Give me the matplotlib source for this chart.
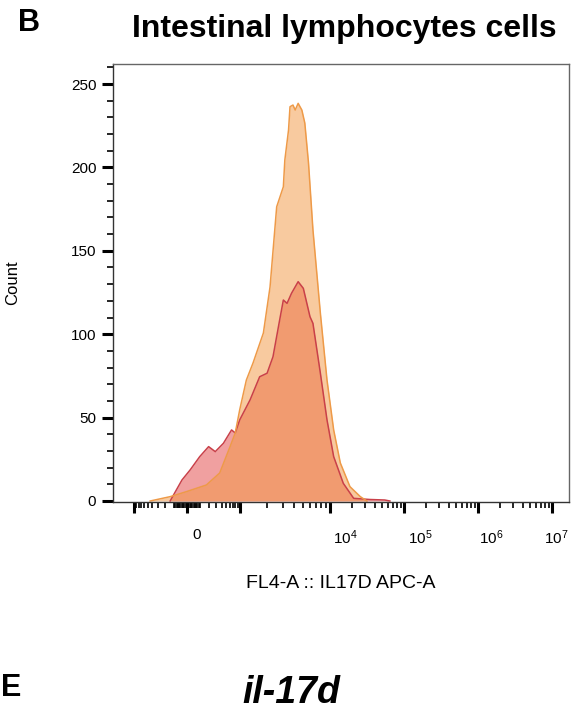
import numpy as np
import matplotlib.pyplot as plt
import matplotlib.transforms as mtransforms

plt.rcParams['font.family'] = ['Liberation Sans', 'DejaVu Sans']
plt.rcParams['mathtext.fontset'] = 'custom'
plt.rcParams['mathtext.rm'] = 'Liberation Sans'
plt.rcParams['mathtext.it'] = 'Liberation Sans:italic'
plt.rcParams['mathtext.bf'] = 'Liberation Sans:bold'

# histogram outlines
# x is the position on the biex axis in decades (10^4 -> 4), y is the count
orange_x = [1.57, 1.84, 2.06, 2.33, 2.51, 2.65, 2.72, 2.78, 2.87, 2.96, 3.10, 3.19,
            3.28, 3.37, 3.39, 3.44, 3.46, 3.50, 3.53, 3.57, 3.62, 3.66, 3.71, 3.77,
            3.87, 3.96, 4.05, 4.14, 4.27, 4.41, 4.50]
orange_y = [0, 2.6, 5.6, 9.6, 16.8, 32.6, 40.8, 54.6, 72.5, 82.7, 100.7, 128.3,
            176.4, 188.4, 204.4, 222.4, 236.4, 237.4, 234.4, 238.4, 234.4, 226.6, 202.6, 162.5,
            112.7, 72.5, 42.6, 22.8, 8.6, 2.6, 0]
red_x = [1.84, 2.00, 2.11, 2.24, 2.36, 2.45, 2.56, 2.67, 2.72, 2.78, 2.92, 3.05,
         3.15, 3.23, 3.32, 3.37, 3.42, 3.48, 3.57, 3.64, 3.73, 3.77, 3.87, 3.96,
         4.05, 4.18, 4.32, 4.54, 4.74, 4.81]
red_y = [0, 12.6, 18.6, 26.6, 32.6, 29.6, 34.6, 42.6, 40.8, 48.6, 60.6, 74.5,
         76.6, 86.5, 108.5, 120.5, 118.5, 124.5, 131.5, 127.5, 110.5, 106.5, 76.7, 48.6,
         26.6, 10.6, 1.6, 0.9, 0.6, 0]

major_values = [-1000, 0, 1000, 1e4, 1e5, 1e6, 1e7]
major_labels = ['', '0', '', '$10^{4}$', '$10^{5}$', '$10^{6}$', '$10^{7}$']
label_shift_px = [0, 10, 0, 15, 16, 13, 4]

y_major = [0, 50, 100, 150, 200, 250]


def biex(v):
    # rough FlowJo-like biexponential placement of axis values
    v = np.asarray(v, dtype=float)
    zero = 2.068
    lin = zero + 0.716 * np.arcsinh(v / 150) / np.arcsinh(1000 / 150)
    pos = np.clip(v, 1, None)
    mid = 2.784 + 1.216 * np.log10(pos / 1000)
    hi = np.log10(pos)
    return np.where(np.abs(v) <= 1000, lin, np.where(v < 1e4, mid, hi))


minor_values = []
for k in range(1, 10):
    minor_values += [10 * k, -10 * k, 100 * k, -100 * k]
for dec in [1e3, 1e4, 1e5, 1e6]:
    minor_values += [k * dec for k in range(2, 10)]

fig = plt.figure(figsize=(5.73, 7.11), dpi=100)
ax = fig.add_axes([113 / 573, 1 - 502 / 711, 456 / 573, 438 / 711])

ax.fill_between(red_x, red_y, 0, color='#f0a0a0', lw=0)
ax.plot(red_x, red_y, color='#c94049', lw=1.1)
ax.fill_between(orange_x, orange_y, 0, color='#f39741', alpha=0.5, lw=0)
ax.plot(orange_x, orange_y, color='#ee9a48', lw=1.1)

ax.set_xlim(1.068, 7.23)
ax.set_ylim(-0.6, 262)

ax.set_xticks(biex(major_values))
ax.set_xticklabels(major_labels)
ax.set_xticks(biex(minor_values), minor=True)
ax.set_yticks(y_major)
ax.set_yticks(np.arange(0, 261, 10), minor=True)

ax.tick_params(axis='both', which='major', length=8, width=2.2, color='black',
               labelsize=11, pad=4)
ax.tick_params(axis='both', which='minor', length=4, width=1.2, color='black')
ax.tick_params(axis='x', which='major', pad=11)

for lab, dx in zip(ax.get_xticklabels(), label_shift_px):
    lab.set_transform(lab.get_transform() +
                      mtransforms.ScaledTranslation(dx / 100, 0, fig.dpi_scale_trans))

for side in ['left', 'bottom']:
    ax.spines[side].set_color('#333333')
    ax.spines[side].set_linewidth(1.0)
for side in ['top', 'right']:
    ax.spines[side].set_color('#666666')
    ax.spines[side].set_linewidth(1.0)

fig.text(341 / 573, 1 - 583 / 711, 'FL4-A :: IL17D APC-A', ha='center', va='center',
         fontsize=14)
fig.text(13 / 573, 1 - 283 / 711, 'Count', rotation=90, ha='center', va='center',
         fontsize=12)
fig.text(344 / 573, 1 - 37 / 711, 'Intestinal lymphocytes cells', ha='center',
         va='baseline', fontsize=23, fontweight='bold')
fig.text(18 / 573, 1 - 31 / 711, 'B', ha='left', va='baseline', fontsize=22,
         fontweight='bold')
fig.text(1 / 573, 1 - 696 / 711, 'E', ha='left', va='baseline', fontsize=22,
         fontweight='bold')
fig.text(291 / 573, 1 - 703 / 711, 'il-17d', ha='center', va='baseline', fontsize=27,
         fontweight='bold', fontstyle='italic')

fig.savefig('out.png', dpi=100)
